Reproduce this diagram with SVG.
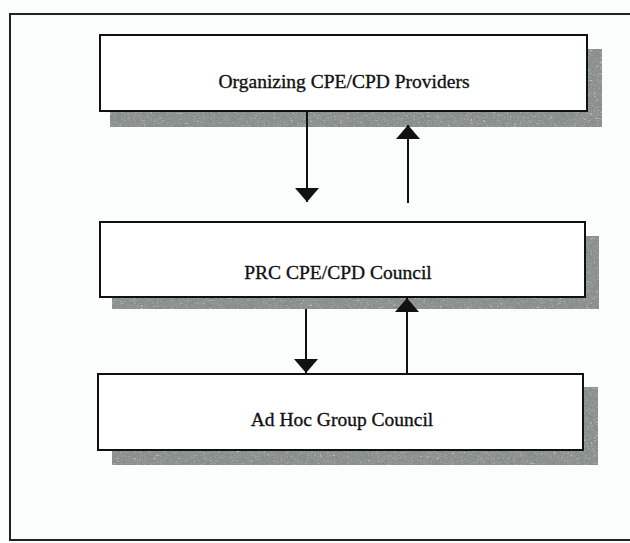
<svg xmlns="http://www.w3.org/2000/svg" width="630" height="543" viewBox="0 0 630 543">
  <style>
    .box { fill: #ffffff; stroke: #111111; stroke-width: 2; }
    .shadow { fill: #7c817f; filter: url(#grain); }
    .label { font-family: "Liberation Serif", "Times New Roman", serif; font-size: 19.5px; fill: #111111; stroke: #111111; stroke-width: 0.35; text-anchor: middle; }
    .link { stroke: #111111; stroke-width: 2; fill: none; }
    .frame { stroke: #222222; stroke-width: 2; fill: none; }
  </style>
  <defs>
    <!-- mottled, speckled fill for the drop shadows -->
    <filter id="grain" x="0" y="0" width="100%" height="100%">
      <feTurbulence type="fractalNoise" baseFrequency="0.3 0.6" numOctaves="2" seed="4" result="noise"/>
      <feColorMatrix in="noise" type="matrix" values="0 0 0 0 0.3  0 0 0 0 0.33  0 0 0 0 0.32  0 0 0 2.4 -0.7" result="dark"/>
      <feColorMatrix in="noise" type="matrix" values="0 0 0 0 0.72  0 0 0 0 0.74  0 0 0 0 0.73  0 0 0 -2.4 1.0" result="light"/>
      <feMerge result="mix">
        <feMergeNode in="SourceGraphic"/>
        <feMergeNode in="dark"/>
        <feMergeNode in="light"/>
      </feMerge>
      <feComposite in="mix" in2="SourceGraphic" operator="in"/>
    </filter>
    <marker id="head" viewBox="0 0 14 24" refX="14" refY="12" markerWidth="14" markerHeight="24" markerUnits="userSpaceOnUse" orient="auto">
      <path d="M0,0 L14,12 L0,24 Z" fill="#111111"/>
    </marker>
  </defs>

  <rect width="630" height="543" fill="#fbfcfc"/>

  <!-- outer frame (open on the right) -->
  <path class="frame" d="M640,14 H10 V540 H640"/>

  <!-- providers -->
  <g id="providers">
    <rect class="shadow" x="110" y="49" width="492" height="78"/>
    <rect class="box" x="100" y="35" width="487" height="76"/>
    <text class="label" x="344" y="88">Organizing CPE/CPD Providers</text>
  </g>

  <!-- council -->
  <g id="council">
    <rect class="shadow" x="112" y="236" width="487" height="73"/>
    <rect class="box" x="100" y="222" width="485" height="75"/>
    <text class="label" x="338" y="279">PRC CPE/CPD Council</text>
  </g>

  <!-- ad hoc group -->
  <g id="adhoc">
    <rect class="shadow" x="112" y="387" width="486" height="78"/>
    <rect class="box" x="98" y="374" width="485" height="76"/>
    <text class="label" x="342" y="426">Ad Hoc Group Council</text>
  </g>

  <!-- connectors -->
  <g id="connectors">
    <line class="link" x1="307" y1="112" x2="307" y2="202" marker-end="url(#head)"/>
    <line class="link" x1="408" y1="203" x2="408" y2="125" marker-end="url(#head)"/>
    <line class="link" x1="306" y1="309" x2="306" y2="373" marker-end="url(#head)"/>
    <line class="link" x1="407" y1="373" x2="407" y2="298" marker-end="url(#head)"/>
  </g>
</svg>
